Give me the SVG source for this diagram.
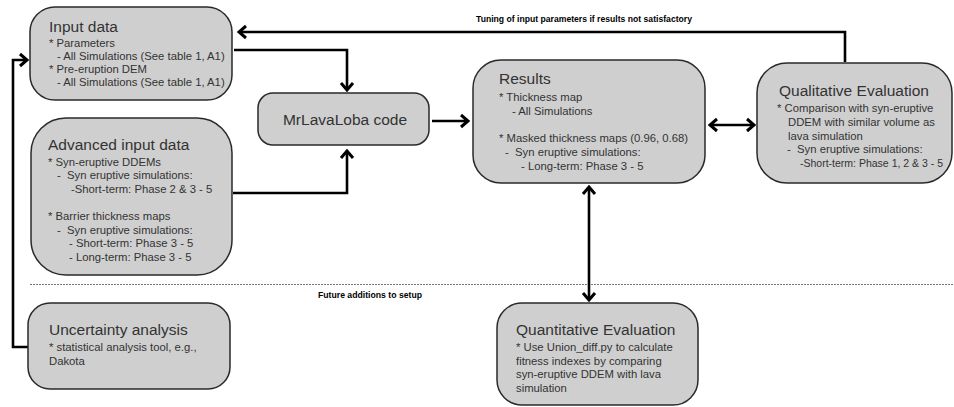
<svg xmlns="http://www.w3.org/2000/svg" width="954" height="407" viewBox="0 0 954 407">
<style>
.box{fill:#cfcfcf;stroke:#2a2a2a;stroke-width:1.5}
.t{font-family:"Liberation Sans",Arial,sans-serif;font-size:15.5px;fill:#333}
.s{font-family:"Liberation Sans",Arial,sans-serif;font-size:11.3px;fill:#333}
.c{fill:none;stroke:#000;stroke-width:2.6}
.lbl{font-family:"Liberation Sans",Arial,sans-serif;font-size:8.5px;font-weight:bold;fill:#000}
</style>
<defs>
<marker id="ah" markerUnits="userSpaceOnUse" viewBox="-10 -8 12 16" refX="0" refY="0" markerWidth="12" markerHeight="16" orient="auto-start-reverse">
<path d="M -7 -6 L 0 0 L -7 6" fill="none" stroke="#000" stroke-width="3"/>
</marker>
</defs>
<rect width="954" height="407" fill="#fff"/>
<line x1="30" y1="284.5" x2="954" y2="284.5" stroke="#777" stroke-width="1" stroke-dasharray="2,1"/>
<text class="lbl" x="476" y="22" textLength="216" lengthAdjust="spacingAndGlyphs">Tuning of input parameters if results not satisfactory</text>
<text class="lbl" x="318" y="298" textLength="104" lengthAdjust="spacingAndGlyphs">Future additions to setup</text>
<g id="connectors">
<path class="c" d="M 845 62 V 32 H 239" marker-end="url(#ah)"/>
<path class="c" d="M 234 50 H 347 V 90" marker-end="url(#ah)"/>
<path class="c" d="M 233 193 H 347 V 151" marker-end="url(#ah)"/>
<path class="c" d="M 432 121 H 468" marker-end="url(#ah)"/>
<path class="c" d="M 710 125 H 754" marker-start="url(#ah)" marker-end="url(#ah)"/>
<path class="c" d="M 589 187 V 300" marker-start="url(#ah)" marker-end="url(#ah)"/>
<path class="c" d="M 28 347 H 13 V 60 H 27" marker-end="url(#ah)"/>
</g>
<g id="input-data">
<rect class="box" x="30" y="7" width="202" height="93" rx="25"/>
<text class="t" x="49" y="32">Input data</text>
<text class="s" x="49" y="47">* Parameters</text>
<text class="s" x="57" y="60">- All Simulations (See table 1, A1)</text>
<text class="s" x="49" y="73">* Pre-eruption DEM</text>
<text class="s" x="57" y="86">- All Simulations (See table 1, A1)</text>
</g>
<g id="advanced-input-data">
<rect class="box" x="31" y="118" width="201" height="157" rx="35"/>
<text class="t" x="48" y="150">Advanced input data</text>
<text class="s" x="48" y="166">* Syn-eruptive DDEMs</text>
<text class="s" x="57" y="179" xml:space="preserve">-  Syn eruptive simulations:</text>
<text class="s" x="71" y="192.5">-Short-term: Phase 2 &amp; 3 - 5</text>
<text class="s" x="48" y="220">* Barrier thickness maps</text>
<text class="s" x="57" y="233.5" xml:space="preserve">-  Syn eruptive simulations:</text>
<text class="s" x="69" y="247">- Short-term: Phase 3 - 5</text>
<text class="s" x="69" y="260.5">- Long-term: Phase 3 - 5</text>
</g>
<g id="uncertainty-analysis">
<rect class="box" x="28" y="303" width="202" height="86" rx="22"/>
<text class="t" x="49" y="334.5">Uncertainty analysis</text>
<text class="s" x="49" y="351">* statistical analysis tool, e.g.,</text>
<text class="s" x="49" y="365">Dakota</text>
</g>
<g id="mrlavaloba">
<rect class="box" x="258" y="93" width="171" height="52" rx="15"/>
<text class="t" x="345" y="125" text-anchor="middle">MrLavaLoba code</text>
</g>
<g id="results">
<rect class="box" x="473" y="60" width="232" height="123" rx="28"/>
<text class="t" x="499" y="84">Results</text>
<text class="s" x="499" y="101">* Thickness map</text>
<text class="s" x="512" y="114.5">- All Simulations</text>
<text class="s" x="499" y="141.5">* Masked thickness maps (0.96, 0.68)</text>
<text class="s" x="505" y="156" xml:space="preserve">-  Syn eruptive simulations:</text>
<text class="s" x="521" y="170">- Long-term: Phase 3 - 5</text>
</g>
<g id="qualitative-evaluation">
<rect class="box" x="757" y="63" width="195" height="120" rx="30"/>
<text class="t" x="779" y="95.5">Qualitative Evaluation</text>
<text class="s" x="777" y="112">* Comparison with syn-eruptive</text>
<text class="s" x="788" y="126">DDEM with similar volume as</text>
<text class="s" x="788" y="139.5">lava simulation</text>
<text class="s" x="787" y="153" xml:space="preserve">-  Syn eruptive simulations:</text>
<text class="s" x="800" y="166.5" textLength="143" lengthAdjust="spacingAndGlyphs">-Short-term: Phase 1, 2 &amp; 3 - 5</text>
</g>
<g id="quantitative-evaluation">
<rect class="box" x="497" y="303" width="201" height="102" rx="25"/>
<text class="t" x="516" y="334.5">Quantitative Evaluation</text>
<text class="s" x="516" y="351">* Use Union_diff.py to calculate</text>
<text class="s" x="516" y="364.5">fitness indexes by comparing</text>
<text class="s" x="516" y="378">syn-eruptive DDEM with lava</text>
<text class="s" x="516" y="391.5">simulation</text>
</g>
</svg>
